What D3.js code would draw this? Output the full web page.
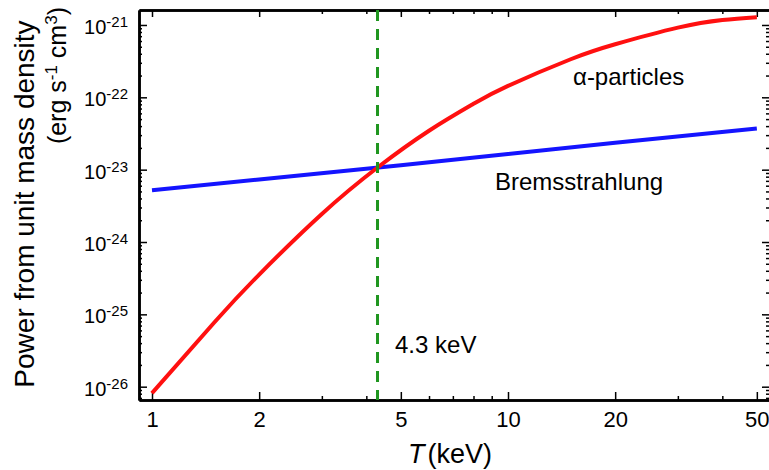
<!DOCTYPE html>
<html>
<head>
<meta charset="utf-8">
<script src="https://cdn.jsdelivr.net/npm/d3@7/dist/d3.min.js"></script>
<style>
    body { margin: 0; background: #fff; }
    svg { display: block; font-family: 'Liberation Sans', Arial, sans-serif; }
    .axis path { stroke: #000; stroke-width: 2.5; }
    .axis line { stroke: #000; stroke-width: 1.5; }
    .axis text { font-family: 'Liberation Sans', Arial, sans-serif; fill: #000; }
</style>
</head>
<body>
<div id="chart"></div>
<script>
//Datos
const T_ALPHA = [1, 1.5, 2, 3, 4.3, 6, 8, 10, 15, 20, 30, 40, 50];
const P_ALPHA = [8.13e-27, 7.85e-26, 3.55e-25, 2.44e-24, 1.07e-23, 3.45e-23, 8.13e-23, 1.44e-22, 3.36e-22, 5.41e-22, 9.18e-22, 1.17e-21, 1.28e-21];
const T_BREMS = [1, 2, 5, 10, 20, 50];
const P_BREMS = [5.2e-24, 7.3e-24, 1.15e-23, 1.65e-23, 2.35e-23, 3.7e-23];
const T_CROSS = 4.3;

//Ticks
const X_MAJOR = [1, 2, 5, 10, 20, 50];
const X_MINOR = [3, 4, 6, 7, 8, 9, 30, 40];
const Y_EXP = [-21, -22, -23, -24, -25, -26];

const COLOR_ALPHA = '#ff1010',
    COLOR_BREMS = '#1414ff',
    COLOR_CROSS = '#1f961f';

init();

function init() {
    let width = 769, height = 470;
    let left = 139, right = 770, top = 10, bottom = 400;

    let svg = d3.select('#chart')
        .append('svg')
            .attr('width', width)
            .attr('height', height);

    let x = d3.scaleLog()
        .domain([Math.pow(10, -13 / 356), Math.pow(10, 618 / 356)])
        .range([left, right]);

    let y = d3.scaleLog()
        .domain([Math.pow(10, -26.184), Math.pow(10, -20.793)])
        .range([bottom, top]);

    //minor ticks del eje Y dentro del rango
    let yMinor = [];
    for (let e = -27; e <= -21; e++) {
        for (let k = 2; k <= 9; k++) {
            let v = k * Math.pow(10, e);
            if (v > y.domain()[0] && v < y.domain()[1]) yMinor.push(v);
        }
    }

    //Eje X abajo
    svg.append('g')
        .attr('class', 'axis')
        .attr('transform', 'translate(0,' + bottom + ')')
        .call(d3.axisBottom(x).tickValues(X_MAJOR).tickSize(-8).tickSizeOuter(0).tickPadding(11).tickFormat(d3.format('d')))
        .call(function(g) { g.selectAll('text').style('font-size', '22px'); });

    svg.append('g')
        .attr('class', 'axis')
        .attr('transform', 'translate(0,' + bottom + ')')
        .call(d3.axisBottom(x).tickValues(X_MINOR).tickSize(-4).tickSizeOuter(0).tickFormat(''));

    //Eje X arriba
    svg.append('g')
        .attr('class', 'axis')
        .attr('transform', 'translate(0,' + top + ')')
        .call(d3.axisTop(x).tickValues(X_MAJOR).tickSize(-7).tickSizeOuter(0).tickFormat(''));

    svg.append('g')
        .attr('class', 'axis')
        .attr('transform', 'translate(0,' + top + ')')
        .call(d3.axisTop(x).tickValues(X_MINOR).tickSize(-4).tickSizeOuter(0).tickFormat(''));

    //Eje Y
    let yMajor = Y_EXP.map(function(e) { return Math.pow(10, e); });

    svg.append('g')
        .attr('class', 'axis')
        .attr('transform', 'translate(' + left + ',0)')
        .call(d3.axisLeft(y).tickValues(yMajor).tickSize(-8).tickSizeOuter(0).tickFormat(''));

    svg.append('g')
        .attr('class', 'axis')
        .attr('transform', 'translate(' + left + ',0)')
        .call(d3.axisLeft(y).tickValues(yMinor).tickSize(-3).tickSizeOuter(0).tickFormat(''));

    svg.append('g')
        .attr('class', 'axis')
        .attr('transform', 'translate(' + right + ',0)')
        .call(d3.axisRight(y).tickValues(yMajor).tickSize(-8).tickSizeOuter(0).tickFormat(''));

    svg.append('g')
        .attr('class', 'axis')
        .attr('transform', 'translate(' + right + ',0)')
        .call(d3.axisRight(y).tickValues(yMinor).tickSize(-4).tickSizeOuter(0).tickFormat(''));

    //Etiquetas eje Y con exponente
    let ylab = svg.append('g')
        .selectAll('text')
        .data(Y_EXP)
        .enter()
        .append('text')
            .attr('x', 128)
            .attr('y', function(d) { return y(Math.pow(10, d)) + 9; })
            .attr('text-anchor', 'end')
            .style('font-size', '20px');
    ylab.append('tspan').text('10');
    ylab.append('tspan')
        .attr('dy', -7)
        .style('font-size', '15px')
        .text(function(d) { return d; });

    //Lineas
    let lineA = d3.line()
        .x(function(d, i) { return x(T_ALPHA[i]); })
        .y(function(d) { return y(d); })
        .curve(d3.curveNatural);

    let lineB = d3.line()
        .x(function(d, i) { return x(T_BREMS[i]); })
        .y(function(d) { return y(d); });

    svg.append('path')
        .datum(P_BREMS)
        .attr('d', lineB)
        .attr('fill', 'none')
        .attr('stroke', COLOR_BREMS)
        .attr('stroke-width', 4);

    svg.append('path')
        .datum(P_ALPHA)
        .attr('d', lineA)
        .attr('fill', 'none')
        .attr('stroke', COLOR_ALPHA)
        .attr('stroke-width', 4);

    svg.append('line')
        .attr('x1', x(T_CROSS)).attr('x2', x(T_CROSS))
        .attr('y1', top).attr('y2', bottom)
        .attr('stroke', COLOR_CROSS)
        .attr('stroke-width', 3)
        .attr('stroke-dasharray', '11,8');

    //Textos
    svg.append('text')
        .attr('x', 573).attr('y', 85)
        .style('font-size', '24px')
        .text('α-particles');

    svg.append('text')
        .attr('x', 495).attr('y', 190)
        .style('font-size', '24px')
        .text('Bremsstrahlung');

    svg.append('text')
        .attr('x', 395).attr('y', 353)
        .style('font-size', '24px')
        .text('4.3 keV');

    //Titulos de ejes
    let xt = svg.append('text')
        .attr('x', 450).attr('y', 463)
        .attr('text-anchor', 'middle')
        .style('font-size', '27px');
    xt.append('tspan').style('font-style', 'italic').text('T');
    xt.append('tspan').attr('dx', 3).text('(keV)');

    svg.append('text')
        .attr('transform', 'translate(34,204) rotate(-90)')
        .attr('text-anchor', 'middle')
        .style('font-size', '28px')
        .text('Power from unit mass density');

    let yt = svg.append('text')
        .attr('transform', 'translate(66,7) rotate(-90)')
        .attr('text-anchor', 'end')
        .style('font-size', '25px');
    yt.append('tspan').text('(erg s');
    yt.append('tspan').attr('dy', -9).style('font-size', '17px').text('-1');
    yt.append('tspan').attr('dy', 9).text(' cm');
    yt.append('tspan').attr('dy', -9).style('font-size', '17px').text('3');
    yt.append('tspan').attr('dy', 9).text(')');
}
</script>
</body>
</html>
